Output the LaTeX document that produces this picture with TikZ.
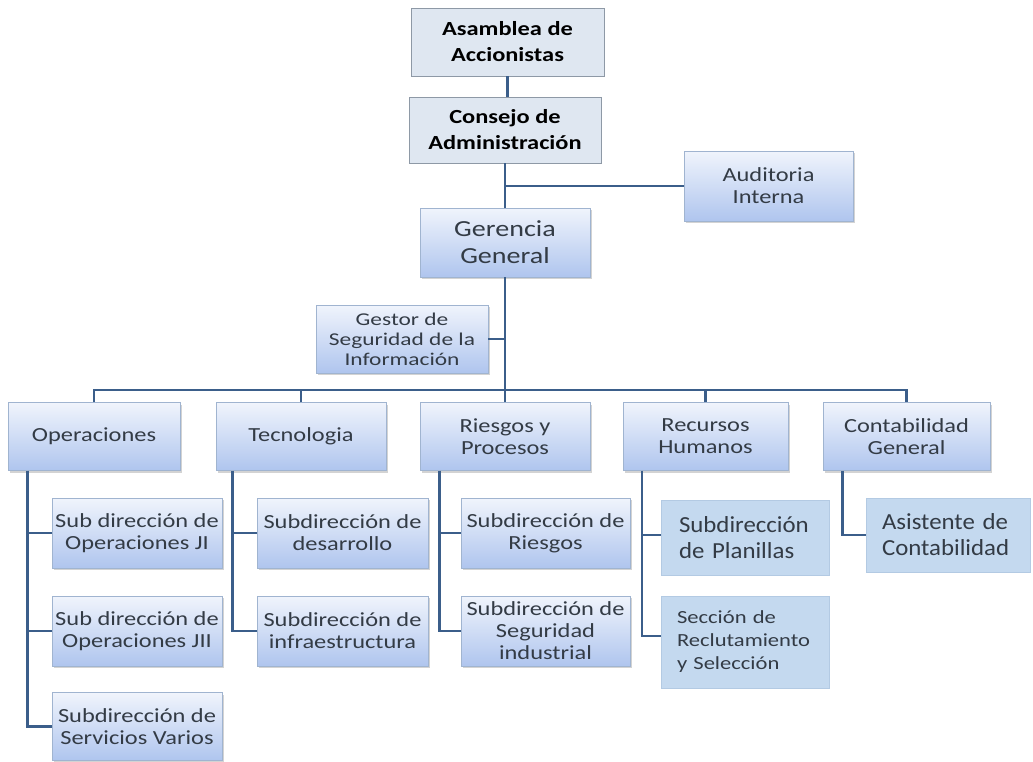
\documentclass[tikz,border=0pt]{standalone}
\usepackage{fontspec}
\usetikzlibrary{shadows,calc}
\newfontfamily\orgfont[FakeStretch=1.22]{Carlito}
\newfontfamily\wideorgfont[FakeStretch=1.3]{Carlito}
\newfontfamily\plainfont[FakeStretch=1.08]{Carlito}
\definecolor{linkblue}{HTML}{3B5E8A}
\definecolor{boxtop}{HTML}{F0F4FC}
\definecolor{boxbottom}{HTML}{AFC5EE}
\definecolor{boxedge}{HTML}{A0B4D0}
\definecolor{headfill}{HTML}{DFE7F1}
\definecolor{headedge}{HTML}{8E99A6}
\definecolor{flatfill}{HTML}{C4D9EF}
\definecolor{flatedge}{HTML}{B3CAE3}
\definecolor{inktext}{HTML}{333B45}
\tikzset{
  conn/.style={draw=linkblue, line width=2.6pt},
  unit/.style={draw=boxedge, line width=0.8pt, top color=boxtop, bottom color=boxbottom,
    drop shadow={shadow xshift=2pt, shadow yshift=-2pt, opacity=0.35, fill=gray},
    text=inktext, align=center, inner sep=0pt, anchor=center,
    font=\orgfont\fontsize{20}{22}\selectfont},
  headbox/.style={draw=headedge, line width=0.8pt, fill=headfill, text=black,
    align=center, inner sep=0pt, anchor=center,
    font=\orgfont\bfseries\fontsize{20}{26}\selectfont},
  flatbox/.style={draw=flatedge, line width=0.8pt, fill=flatfill, text=inktext,
    align=left, inner sep=0pt, anchor=center},
  sz/.style n args={2}{minimum width=#1pt, minimum height=#2pt}
}
\begin{document}
\begin{tikzpicture}[x=1pt, y=-1pt]
\useasboundingbox (0,0) rectangle (1033,761);

% top of the hierarchy
\node[headbox, sz={193}{68}] (asam) at (507.5,42) {Asamblea de\\Accionistas};
\node[headbox, sz={192}{66}] (cons) at (505,130) {Consejo de\\Administración};
\node[unit, sz={169}{70}] (aud) at (768.5,186) {Auditoria\\Interna};
\node[unit, sz={170}{69}, font=\orgfont\fontsize{23}{27}\selectfont] (ger) at (505,242.5) {Gerencia\\General};
\node[unit, sz={172}{68}, font=\wideorgfont\fontsize{18}{20}\selectfont] (gest) at (402,339) {Gestor de\\Seguridad de la\\Información};

% departments
\node[unit, sz={172}{68}] (ops) at (94,436.5) {Operaciones};
\node[unit, sz={170}{68}] (tec) at (301,436.5) {Tecnologia};
\node[unit, sz={170}{68}] (rie) at (505,436.5) {Riesgos y\\Procesos};
\node[unit, sz={165}{68}] (rrhh) at (705.5,436.5) {Recursos\\Humanos};
\node[unit, sz={167}{68}] (cont) at (906.5,436.5) {Contabilidad\\General};

% operations
\node[unit, sz={170}{70}] (op1) at (137,533) {Sub dirección de\\Operaciones JI};
\node[unit, sz={170}{70}] (op2) at (137,631) {Sub dirección de\\Operaciones JII};
\node[unit, sz={170}{68}] (op3) at (137,726.5) {Subdirección de\\Servicios Varios};

% technology
\node[unit, sz={171}{70}] (tc1) at (342.5,533) {Subdirección de\\desarrollo};
\node[unit, sz={171}{70}] (tc2) at (342.5,631) {Subdirección de\\infraestructura};

% risks
\node[unit, sz={169}{70}] (rs1) at (545.5,533) {Subdirección de\\Riesgos};
\node[unit, sz={169}{70}] (rs2) at (545.5,631) {Subdirección de\\Seguridad\\industrial};

% human resources
\node[flatbox, sz={168}{75}, text width=132pt, font=\plainfont\fontsize{23}{26}\selectfont] (hr1) at (745,537.5) {Subdirección\\de Planillas};
\node[flatbox, sz={168}{92}, text width=136pt, font=\orgfont\fontsize{18.5}{23}\selectfont] (hr2) at (745,642) {Sección de\\Reclutamiento\\y Selección};

% accounting
\node[flatbox, sz={164}{74}, text width=132pt, font=\plainfont\fontsize{23}{26}\selectfont] (ac1) at (948,535) {Asistente de\\Contabilidad};

% main trunk
\draw[conn] (asam.south) -- (asam.south |- cons.north);
\draw[conn] (cons.south) -- (ger.north);
\draw[conn] (aud.west) -- (aud.west -| cons.south);
\draw[conn] (ger.south) -- (rie.north);
\draw[conn] (gest.east) -- (gest.east -| ger.south);

% department bar
\coordinate (bar) at (505,390);
\draw[conn] (ops.north) -- (ops.north |- bar) -- (cont.north |- bar) -- (cont.north);
\draw[conn] (tec.north) -- (tec.north |- bar);
\draw[conn] (rrhh.north) -- (rrhh.north |- bar);

% department branches
\coordinate (opsrail) at ($(ops.south west)+(20,0)$);
\draw[conn] (opsrail) |- (op1.west);
\draw[conn] (opsrail) |- (op2.west);
\draw[conn] (opsrail) |- (op3.west);

\coordinate (tecrail) at ($(tec.south west)+(17,0)$);
\draw[conn] (tecrail) |- (tc1.west);
\draw[conn] (tecrail) |- (tc2.west);

\coordinate (rierail) at ($(rie.south west)+(20,0)$);
\draw[conn] (rierail) |- (rs1.west);
\draw[conn] (rierail) |- (rs2.west);

\coordinate (hrrail) at ($(rrhh.south west)+(19.5,0)$);
\draw[conn] (hrrail) |- ($(hr1.west)+(0,-2.5)$);
\draw[conn] (hrrail) |- ($(hr2.west)+(0,-6)$);

\coordinate (acrail) at ($(cont.south west)+(20,0)$);
\draw[conn] (acrail) |- (ac1.west);
\end{tikzpicture}
\end{document}
